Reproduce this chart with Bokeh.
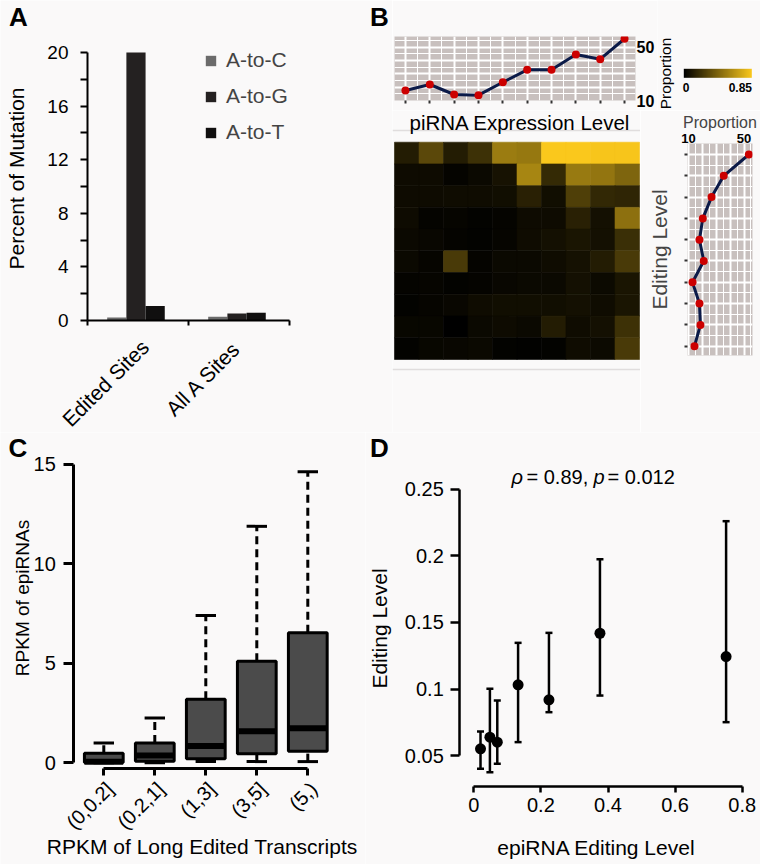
import numpy as np
from bokeh.plotting import figure
from bokeh.layouts import row, column
from bokeh.models import (ColumnDataSource, FixedTicker, Label, Legend, LegendItem, LinearAxis,
                          LinearColorMapper, ColorBar, Whisker, TeeHead, Span, Range1d)
from bokeh.embed import file_html
from bokeh.resources import INLINE

FONT = "Liberation Sans"
NARROW = "Liberation Sans Narrow, Liberation Sans"
BG = "#faf9f9"
PANEL = "#c8c0be"

# ---------------- data ----------------
# Panel A
site_groups = ["Edited Sites", "All A Sites"]
mutation_types = ["A-to-C", "A-to-G", "A-to-T"]
pct_a_to_c = [0.22, 0.28]
pct_a_to_g = [20.0, 0.52]
pct_a_to_t = [1.08, 0.58]
pct_ticks = [0, 4, 8, 12, 16, 20]
pct_minor = [2, 6, 10, 14, 18]

# Panel B
expr_bins = [1, 2, 3, 4, 5, 6, 7, 8, 9, 10]
edit_bins = [1, 2, 3, 4, 5, 6, 7, 8, 9, 10]
expr_proportion = [17.5, 22.0, 14.5, 14.0, 23.7, 33.0, 33.0, 44.5, 41.0, 56.3]
edit_proportion = [14.3, 18.6, 17.9, 12.9, 21.0, 17.9, 20.3, 26.6, 35.4, 53.5]
proportion_ticks = [10, 50]
heat_rows = [  # top row = highest editing level
    [0.12, 0.31, 0.12, 0.21, 0.53, 0.51, 0.85, 0.85, 0.84, 0.84],
    [0.05, 0.05, 0.02, 0.04, 0.08, 0.57, 0.18, 0.52, 0.50, 0.43],
    [0.05, 0.05, 0.055, 0.055, 0.06, 0.14, 0.06, 0.27, 0.17, 0.16],
    [0.05, 0.02, 0.025, 0.015, 0.02, 0.05, 0.05, 0.14, 0.07, 0.48],
    [0.04, 0.035, 0.02, 0.015, 0.025, 0.055, 0.07, 0.09, 0.07, 0.20],
    [0.04, 0.025, 0.25, 0.02, 0.04, 0.04, 0.055, 0.075, 0.12, 0.25],
    [0.02, 0.025, 0.015, 0.02, 0.035, 0.04, 0.04, 0.07, 0.045, 0.09],
    [0.015, 0.025, 0.035, 0.055, 0.06, 0.06, 0.06, 0.07, 0.055, 0.09],
    [0.03, 0.03, 0.005, 0.04, 0.05, 0.04, 0.12, 0.055, 0.07, 0.21],
    [0.015, 0.03, 0.035, 0.04, 0.015, 0.01, 0.015, 0.055, 0.045, 0.25],
]
heat_low, heat_high = 0.0, 0.85
colorbar_labels = ["0", "0.85"]

# Panel C
rpkm_bins = ["(0,0.2]", "(0.2,1]", "(1,3]", "(3,5]", "(5,)"]
box_lo = [0.0, 0.0, 0.06, 0.06, 0.06]
box_q1 = [0.02, 0.08, 0.20, 0.45, 0.58]
box_med = [0.05, 0.37, 0.84, 1.59, 1.74]
box_q3 = [0.48, 0.99, 3.19, 5.11, 6.54]
box_hi = [1.0, 2.25, 7.41, 11.89, 14.63]
rpkm_ticks = [0, 5, 10, 15]

# Panel D
epi_level = [0.020, 0.048, 0.070, 0.132, 0.224, 0.376, 0.752]
edit_level = [0.0551, 0.0638, 0.0601, 0.1032, 0.0919, 0.1419, 0.1244]
edit_upper = [0.0681, 0.1002, 0.0914, 0.1347, 0.1422, 0.1975, 0.2261]
edit_lower = [0.0401, 0.0375, 0.0438, 0.0601, 0.0826, 0.0951, 0.0751]
d_xticks = [0, 0.2, 0.4, 0.6, 0.8]
d_yticks = [0.05, 0.1, 0.15, 0.2, 0.25]

# layout split (page pixels)
TOP_H = 432
B1_H = 110


# ---------------- helpers ----------------
def make_fig(w, h, xr, yr, l=0, r=0, t=0, b=0, bg=BG, xloc=None, yloc=None):
    p = figure(width=w, height=h, x_range=Range1d(*xr), y_range=Range1d(*yr),
               output_backend="svg", toolbar_location=None, tools="",
               x_axis_location=xloc, y_axis_location=yloc,
               min_border_left=l, min_border_right=r, min_border_top=t, min_border_bottom=b,
               background_fill_color=bg, border_fill_color=BG, outline_line_color=None)
    p.grid.visible = False
    try:
        p.frame_align = False
    except Exception:
        pass
    return p


def style_axis(ax, ticks, minor=None, bounds=None, tick_out=7, lw=2, size="20px",
               standoff=8, labels=True, overrides=None, line=True, tick_color="black",
               bold=False):
    ax.ticker = FixedTicker(ticks=ticks, minor_ticks=minor or [])
    if bounds is not None:
        ax.bounds = bounds
    ax.major_tick_in = 0
    ax.major_tick_out = tick_out
    ax.minor_tick_in = 0
    ax.minor_tick_out = tick_out
    ax.major_tick_line_width = lw
    ax.minor_tick_line_width = lw
    ax.major_tick_line_color = tick_color
    ax.minor_tick_line_color = tick_color
    ax.axis_line_width = lw
    ax.axis_line_color = "black" if line else None
    ax.major_label_text_font = FONT
    ax.major_label_text_color = "black"
    if labels:
        ax.major_label_text_font_size = size
        ax.major_label_standoff = standoff
        if overrides:
            ax.major_label_overrides = overrides
        if bold:
            ax.major_label_text_font_style = "bold"
    else:
        ax.major_label_text_font_size = "1px"
        ax.major_label_standoff = 0
        ax.major_label_overrides = {t: "" for t in ticks}


def add_axis(p, side, loc, **kw):
    ax = LinearAxis(fixed_location=loc)
    style_axis(ax, **kw)
    p.add_layout(ax, side)
    return ax


def lab(p, x, y, text, size, angle=0, align="center", baseline="middle", style="normal", font=FONT):
    p.add_layout(Label(x=x, y=y, x_units="screen", y_units="screen", text=text, text_font=font,
                       text_font_size=size, text_font_style=style, angle=angle,
                       angle_units="deg", text_align=align, text_baseline=baseline,
                       text_color="black"))


def gray_grid(p, xt, xm, yt, ym):
    p.xgrid.visible = True
    p.ygrid.visible = True
    p.xgrid.ticker = FixedTicker(ticks=xt, minor_ticks=xm)
    p.ygrid.ticker = FixedTicker(ticks=yt, minor_ticks=ym)
    for g in (p.xgrid[0], p.ygrid[0]):
        g.grid_line_color = "white"
        g.grid_line_width = 2
        g.minor_grid_line_color = "white"
        g.minor_grid_line_width = 1


# ---------------- Panel A (page x 0..392, y 0..TOP_H) ----------------
pa = make_fig(392, TOP_H, (-87 / 101, 305 / 101), (-(TOP_H - 320) / 13.4, 20 + 52 / 13.4))
bar_offsets = [0.29, 0.48, 0.67]
bar_colors = ["#6b6b6b", "#242121", "#100f0f"]
series = [pct_a_to_c, pct_a_to_g, pct_a_to_t]
bar_renderers = []
for k, vals in enumerate(series):
    src = ColumnDataSource(dict(x=[g + bar_offsets[k] for g in range(len(site_groups))], top=vals))
    r = pa.vbar(x="x", top="top", bottom=0, width=0.19, source=src,
                fill_color=bar_colors[k], line_color=None)
    bar_renderers.append(r)
add_axis(pa, "left", 0, ticks=pct_ticks, minor=pct_minor, bounds=(0, 20), tick_out=7, lw=2,
         size="19px", standoff=12)
add_axis(pa, "below", 0, ticks=[0, 1, 2], bounds=(0, 2), tick_out=5, lw=2, labels=False)
legend = Legend(items=[LegendItem(label=m, renderers=[r]) for m, r in zip(mutation_types, bar_renderers)],
                location=(204, TOP_H - 144), padding=0, margin=0, spacing=12, label_height=24,
                glyph_height=13, glyph_width=13, label_standoff=9, label_text_font=FONT,
                label_text_font_size="21px", border_line_color=None, background_fill_alpha=0)
pa.add_layout(legend)
lab(pa, 17.8, TOP_H - 16.5, "A", "26px", style="bold")
lab(pa, 379, TOP_H - 16.5, "B", "26px", style="bold")
lab(pa, 15.7, TOP_H - 178, "Percent of Mutation", "21px", angle=90)
lab(pa, 144.6, TOP_H - 343, site_groups[0], "21px", angle=45, align="right")
lab(pa, 236.6, TOP_H - 344, site_groups[1], "21px", angle=45, align="right")

# ---------------- Panel B ----------------
# top marginal line chart (page x 392..657, y 0..110; frame 394..637 x 36..100)
pt = make_fig(265, B1_H, (0.55, 10.45), (10, 58), l=2, r=20, t=36, b=B1_H - 100, bg=PANEL,
              xloc="below", yloc="right")
style_axis(pt.xaxis[0], expr_bins, tick_out=3, lw=2, labels=False, line=False, tick_color="#333333")
style_axis(pt.yaxis[0], proportion_ticks, tick_out=0, lw=1, size="16px", standoff=1,
           line=False, tick_color=None, bold=True)
gray_grid(pt, expr_bins, [b + 0.5 for b in expr_bins[:-1]], [10, 20, 30, 40, 50], [15, 25, 35, 45, 55])
pt.line(expr_bins, expr_proportion, line_color="#0b1a48", line_width=3)
pt.scatter(expr_bins, expr_proportion, size=8, fill_color="#cc0000", line_color=None)

# colour bar + label (page x 657..760, y 0..110)
mapper = LinearColorMapper(
    palette=["#%02x%02x%02x" % (int(250 * t), int(200 * t), int(28 * t)) for t in np.linspace(0, 1, 256)],
    low=heat_low, high=heat_high)
pcb = make_fig(103, B1_H, (0, 1), (0, 1))
cb = ColorBar(color_mapper=mapper, orientation="horizontal", location=(26.3, B1_H - 77.3),
              width=68, height=9, padding=0, margin=0, ticker=FixedTicker(ticks=[]),
              major_tick_line_color=None, bar_line_color=None, background_fill_alpha=0,
              border_line_color=None)
pcb.add_layout(cb)
lab(pcb, 8, B1_H - 73, "Proportion", "15.5px", angle=90)
lab(pcb, 28.5, B1_H - 87, colorbar_labels[0], "12px", style="bold")
lab(pcb, 94.5, B1_H - 87, colorbar_labels[1], "12px", style="bold", align="right")

# heatmap (page x 392..640, y 110..TOP_H; cells 394..639 x 141.7..359)
H2 = TOP_H - B1_H
ph = make_fig(248, H2, (0.5 - 2 / 24.5, 10.5 + 1 / 24.5),
              (0.5 - (TOP_H - 359) / 21.73, 10.5 + (141.7 - B1_H) / 21.73))
hx, hy, hv = [], [], []
for i, rvals in enumerate(heat_rows):
    for j, v in enumerate(rvals):
        hx.append(expr_bins[j])
        hy.append(edit_bins[len(edit_bins) - 1 - i])
        hv.append(v)
hsrc = ColumnDataSource(dict(x=hx, y=hy, v=hv))
ph.rect(x="x", y="y", width=1, height=1, source=hsrc,
        fill_color={"field": "v", "transform": mapper},
        line_color={"field": "v", "transform": mapper}, line_width=0.6)
ph.add_layout(Span(location=10.5 + 11.7 / 21.73, dimension="width", line_color="#e0dddd", line_width=1.5))
ph.add_layout(Span(location=0.5 - 10 / 21.73, dimension="width", line_color="#e0dddd", line_width=1.5))
lab(ph, 127.5, TOP_H - 122, "piRNA Expression Level", "20.5px")

# right marginal line chart (page x 640..760, y 110..TOP_H; frame 687..752 x 143..355)
pr = make_fig(120, H2, (10 - 1 / 1.3875, 10 + 64 / 1.3875), (0.563, 10.516), l=47, r=8,
              t=143 - B1_H, b=TOP_H - 355, bg=PANEL, xloc="above", yloc="left")
style_axis(pr.xaxis[0], proportion_ticks, tick_out=0, lw=1, size="13px", standoff=1,
           line=False, tick_color=None, bold=True)
style_axis(pr.yaxis[0], edit_bins, tick_out=3, lw=2, labels=False, line=False, tick_color="#333333")
pr.xaxis[0].axis_label = "Proportion"
pr.xaxis[0].axis_label_standoff = 0
pr.xaxis[0].axis_label_text_font = FONT
pr.xaxis[0].axis_label_text_font_size = "16px"
pr.xaxis[0].axis_label_text_font_style = "normal"
pr.yaxis[0].axis_label = "Editing Level"
pr.yaxis[0].axis_label_standoff = 14
pr.yaxis[0].axis_label_text_font = FONT
pr.yaxis[0].axis_label_text_font_size = "21px"
pr.yaxis[0].axis_label_text_font_style = "normal"
gray_grid(pr, [10, 20, 30, 40, 50], [15, 25, 35, 45, 55], edit_bins, [b + 0.5 for b in edit_bins[:-1]])
pr.line(edit_proportion, edit_bins, line_color="#0b1a48", line_width=3)
pr.scatter(edit_proportion, edit_bins, size=8, fill_color="#cc0000", line_color=None)

# ---------------- Panel C (page x 0..365, y TOP_H..864) ----------------
BOT_H = 864 - TOP_H
pc = make_fig(365, BOT_H, (1 - 103.3 / 51, 5 + 57.7 / 51),
              (-(864 - 762.3) / 19.887, 15 + (464 - TOP_H) / 19.887))
pos = list(range(1, len(rpkm_bins) + 1))
pc.segment(x0=pos, y0=box_q3, x1=pos, y1=box_hi, line_width=3, line_dash="8 5", line_color="black")
pc.segment(x0=pos, y0=box_lo, x1=pos, y1=box_q1, line_width=3, line_dash="8 5", line_color="black")
pc.segment(x0=[x - 0.2 for x in pos], y0=box_hi, x1=[x + 0.2 for x in pos], y1=box_hi,
           line_width=3, line_color="black")
pc.segment(x0=[x - 0.2 for x in pos], y0=box_lo, x1=[x + 0.2 for x in pos], y1=box_lo,
           line_width=3, line_color="black")
pc.vbar(x=pos, bottom=box_q1, top=box_q3, width=0.76, fill_color="#4b4b4b",
        line_color="black", line_width=3)
pc.segment(x0=[x - 0.38 for x in pos], y0=box_med, x1=[x + 0.38 for x in pos], y1=box_med,
           line_width=6, line_color="black")
add_axis(pc, "left", 1 - 30 / 51, ticks=rpkm_ticks, bounds=(0, 15), tick_out=10, lw=3,
         size="20px", standoff=8)
add_axis(pc, "below", -6 / 19.887, ticks=pos, bounds=(1, 5), tick_out=7, lw=3, labels=False)
lab(pc, 17.5, 864 - 447, "C", "26px", style="bold")
lab(pc, 21.7, 864 - 597.5, "RPKM of epiRNAs", "19px", angle=90, font=NARROW)
lab(pc, 201.7, 864 - 846, "RPKM of Long Edited Transcripts", "21px")
for i, name in enumerate(rpkm_bins):
    lab(pc, 103.3 + 51 * i + 6, 864 - 785, name, "20px", angle=45, align="right")

# ---------------- Panel D (page x 365..760, y TOP_H..864) ----------------
pd_ = make_fig(395, BOT_H, ((365 - 473.3) / 335.5, (760 - 473.3) / 335.5),
               (0.15 - (864 - 621.98) / 1331, 0.15 + (621.98 - TOP_H) / 1331))
dsrc = ColumnDataSource(dict(x=epi_level, y=edit_level, hi=edit_upper, lo=edit_lower))
pd_.add_layout(Whisker(base="x", upper="hi", lower="lo", source=dsrc, dimension="height",
                       line_width=2.5, line_color="black",
                       upper_head=TeeHead(size=7, line_width=2.5, line_color="black"),
                       lower_head=TeeHead(size=7, line_width=2.5, line_color="black")))
pd_.scatter(x="x", y="y", source=dsrc, size=11, fill_color="black", line_color=None)
add_axis(pd_, "left", (459.3 - 473.3) / 335.5, ticks=d_yticks, bounds=(0.05, 0.25), tick_out=9,
         lw=2.5, size="20px", standoff=7,
         overrides={0.05: "0.05", 0.1: "0.1", 0.15: "0.15", 0.2: "0.2", 0.25: "0.25"})
add_axis(pd_, "below", 0.15 - (786 - 621.98) / 1331, ticks=d_xticks, bounds=(0, 0.8), tick_out=6,
         lw=2.5, size="20px", standoff=5,
         overrides={0: "0", 0.2: "0.2", 0.4: "0.4", 0.6: "0.6", 0.8: "0.8"})
lab(pd_, 14, 864 - 447, "D", "26px", style="bold")
lab(pd_, 13.5, 864 - 628, "Editing Level", "21px", angle=90)
lab(pd_, 231, 864 - 846.7, "epiRNA Editing Level", "21px")
lab(pd_, 146, 864 - 476, "ρ", "20px", align="left", style="italic")
lab(pd_, 161, 864 - 476, "= 0.89,", "20px", align="left")
lab(pd_, 228, 864 - 476, "p", "20px", align="left", style="italic")
lab(pd_, 242, 864 - 476, "= 0.012", "20px", align="left")

layout = column(
    row(pa, column(row(pt, pcb), row(ph, pr))),
    row(pc, pd_),
)
open("out.html", "w").write(file_html(layout, INLINE))
